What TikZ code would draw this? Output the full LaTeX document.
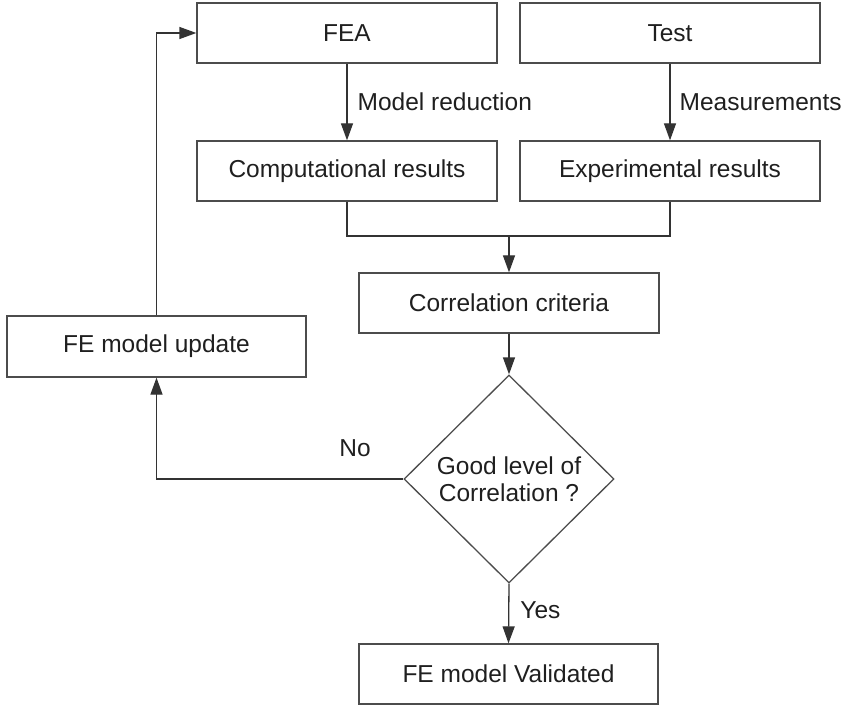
\documentclass[tikz,border=0pt]{standalone}
\usepackage{fontspec}
\setmainfont{Liberation Sans}
\usetikzlibrary{shapes.geometric,arrows.meta}
\begin{document}
\begin{tikzpicture}[x=1pt,y=-1pt,
  font=\fontsize{24.5}{27.5}\selectfont,
  every node/.style={text=black!88},
  box/.style={draw=black!70,line width=1.3pt,rectangle,inner sep=0pt,minimum width=300pt,minimum height=60pt},
  dia/.style={draw=black!70,line width=1.3pt,diamond,inner sep=0pt,minimum width=210pt,minimum height=208pt,align=center},
  conn/.style={draw=black!80,line width=1.3pt},
  arr/.style={conn,-{Triangle[length=17pt,width=12pt]}},
  lbl/.style={inner sep=0pt}]
\useasboundingbox (0,0) rectangle (847,706);
\node[box] (fea) at (347,33) {FEA};
\node[box] (test) at (670,33) {Test};
\node[box] (comp) at (347,171) {Computational results};
\node[box] (exp) at (670,171) {Experimental results};
\node[box] (corr) at (509,303) {Correlation criteria};
\node[box,minimum width=299pt,minimum height=61pt] (upd) at (156.5,346.5) {FE model update};
\node[dia] (good) at (509,479) {Good level of\\Correlation ?};
\node[box,minimum width=299pt] (val) at (508.5,674) {FE model Validated};
\coordinate (m) at (509,236);
\draw[arr] (fea) -- node[lbl,right=10pt,pos=0.5]{Model reduction} (comp);
\draw[arr] (test) -- node[lbl,right=9pt,pos=0.5]{Measurements} (exp);
\draw[conn] (comp.south) |- (m) -| (exp.south);
\draw[arr] (m) -- (corr.north);
\draw[arr] (corr) -- (good.north);
\draw[arr] (good.south) -- node[lbl,right=11pt,pos=0.45]{Yes} (val.north);
\draw[arr] (good.west) -| (upd.south);
\node[lbl] (no) at (355,448) {No};
\draw[arr] (upd.north) |- (fea.west);
\end{tikzpicture}
\end{document}
